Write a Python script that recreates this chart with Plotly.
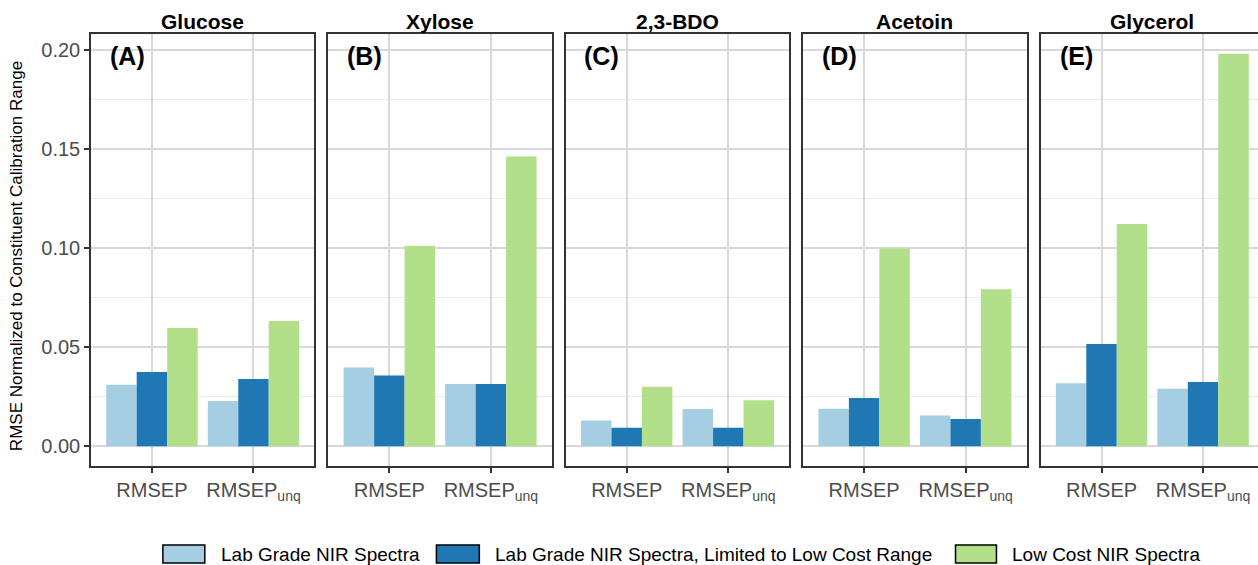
import plotly.graph_objects as go
from plotly.subplots import make_subplots

# Constituents (one panel each) and the two error metrics on the x axis
constituents = ["Glucose", "Xylose", "2,3-BDO", "Acetoin", "Glycerol"]
panel_tags = ["(A)", "(B)", "(C)", "(D)", "(E)"]
metrics = ["RMSEP", "RMSEP<sub>unq</sub>"]

# Normalized RMSE per constituent: [RMSEP, RMSEP_unq]
lab_grade = [[0.0311, 0.0229], [0.0397, 0.0315], [0.0131, 0.0189], [0.0190, 0.0155], [0.0318, 0.0291]]
lab_grade_limited = [[0.0375, 0.0340], [0.0357, 0.0315], [0.0094, 0.0094], [0.0244, 0.0138], [0.0516, 0.0325]]
low_cost = [[0.0597, 0.0632], [0.1011, 0.1462], [0.0301, 0.0232], [0.0998, 0.0792], [0.1121, 0.1980]]

series_names = ["Lab Grade NIR Spectra", "Lab Grade NIR Spectra, Limited to Low Cost Range", "Low Cost NIR Spectra"]
series_values = [lab_grade, lab_grade_limited, low_cost]
series_colors = ["#A6CEE3", "#1F78B4", "#B2DF8A"]

y_ticks = [0.0, 0.05, 0.10, 0.15, 0.20]
y_tick_text = ["0.00", "0.05", "0.10", "0.15", "0.20"]

FONT = "Liberation Sans, Arial, sans-serif"
W, H = 1266, 565
ML, MR, MT, MB = 91, 0, 34, 99
PW, PH = W - ML - MR, H - MT - MB

fig = make_subplots(rows=1, cols=5, horizontal_spacing=14 / PW, shared_yaxes=False)

for ci, name in enumerate(constituents):
    for si, sname in enumerate(series_names):
        fig.add_trace(
            go.Bar(
                x=metrics,
                y=series_values[si][ci],
                name=sname,
                marker=dict(color=series_colors[si], line=dict(width=0)),
                showlegend=False,
                legendgroup=sname,
            ),
            row=1, col=ci + 1,
        )

# per-panel axes
ymax = max(max(max(v) for v in s) for s in series_values)
pad = 0.05 * ymax
for ci in range(len(constituents)):
    fig.update_xaxes(
        row=1, col=ci + 1,
        type="category", categoryorder="array", categoryarray=metrics,
        range=[-0.6, 1.6],
        showline=True, linecolor="#333333", linewidth=1.5, mirror=True,
        showgrid=True, gridcolor="#D9D9D9", gridwidth=1.8,
        ticks="outside", ticklen=5, tickwidth=1.5, tickcolor="#333333",
        tickfont=dict(family=FONT, size=20, color="#4D4D4D"),
        zeroline=False,
    )
    fig.update_yaxes(
        row=1, col=ci + 1,
        range=[-pad, ymax + pad],
        tickvals=y_ticks, ticktext=y_tick_text,
        showticklabels=(ci == 0),
        ticks="outside" if ci == 0 else "",
        ticklen=5, tickwidth=1.5, tickcolor="#333333",
        tickfont=dict(family=FONT, size=20, color="#4D4D4D"),
        showline=True, linecolor="#333333", linewidth=1.5, mirror=True,
        showgrid=True, gridcolor="#D9D9D9", gridwidth=1.8,
        minor=dict(tickvals=[0.025, 0.075, 0.125, 0.175], showgrid=True,
                   gridcolor="#EBEBEB", gridwidth=1.2, ticks=""),
        zeroline=False,
    )

annotations = []
for ci, name in enumerate(constituents):
    xd = "x domain" if ci == 0 else f"x{ci + 1} domain"
    annotations.append(dict(
        text=f"<b>{name}</b>", xref=xd, yref="paper", x=0.5, y=1 + (MT - 21) / PH,
        xanchor="center", yanchor="middle", showarrow=False,
        font=dict(family=FONT, size=21, color="black"),
    ))
    annotations.append(dict(
        text=f"<b>{panel_tags[ci]}</b>", xref=xd, yref="paper",
        x=36 / 223, y=(H - MB - 56) / PH,
        xanchor="center", yanchor="middle", showarrow=False,
        font=dict(family=FONT, size=25, color="black"),
    ))


def px_x(px):
    return (px - ML) / PW


def px_y(py):
    return (H - MB - py) / PH


# y-axis title
annotations.append(dict(
    text="RMSE Normalized to Constituent Calibration Range",
    xref="paper", yref="paper", x=px_x(17), y=px_y(256),
    xanchor="center", yanchor="middle", textangle=-90, showarrow=False,
    font=dict(family=FONT, size=17, color="black"),
))

# legend drawn along the bottom
legend_boxes = [(163, 205), (437, 480), (957, 998)]
shapes = []
for (x0, x1), sname, col in zip(legend_boxes, series_names, series_colors):
    shapes.append(dict(
        type="rect", xref="paper", yref="paper",
        x0=px_x(x0), x1=px_x(x1), y0=px_y(563), y1=px_y(545),
        fillcolor=col, line=dict(color="black", width=1.5),
    ))
    annotations.append(dict(
        text=sname, xref="paper", yref="paper", x=px_x(x1 + 14), y=px_y(554),
        xanchor="left", yanchor="middle", showarrow=False,
        font=dict(family=FONT, size=19, color="black"),
    ))

fig.update_layout(
    width=W, height=H,
    margin=dict(l=ML, r=MR, t=MT, b=MB),
    paper_bgcolor="white", plot_bgcolor="white",
    barmode="group", bargap=0.1, bargroupgap=0,
    showlegend=False,
    annotations=annotations, shapes=shapes,
    font=dict(family=FONT),
)

fig.write_html(
    "out.html",
    post_script="document.documentElement.style.overflow='hidden';document.body.style.overflow='hidden';document.body.style.margin='0';",
)
